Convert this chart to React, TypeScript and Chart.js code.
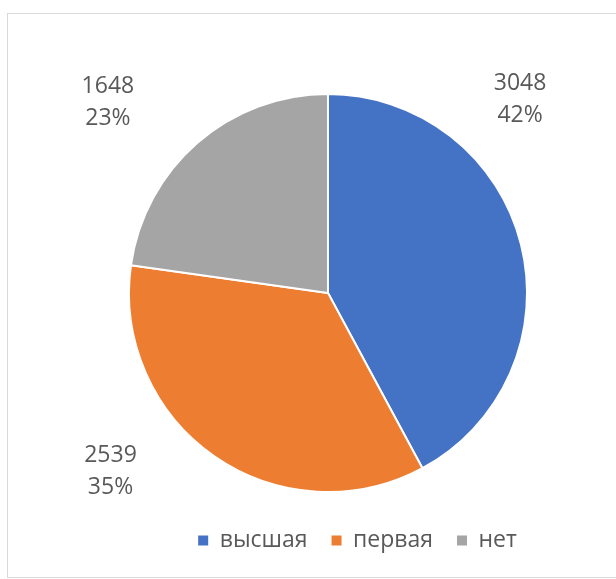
import React, { useEffect, useRef } from "react";
import { Chart, registerables } from "chart.js";

Chart.register(...registerables);

const categories = ["высшая", "первая", "нет"];
const values = [3048, 2539, 1648];
const colors = ["#4472C4", "#ED7D31", "#A5A5A5"];

// label anchor offsets relative to pie centre, in units of the pie radius
const labelOffsets = [
  [0.965, -0.975],
  [-1.093, 0.899],
  [-1.106, -0.96],
];

const TEXT = "#595959";
const FONT = "'Open Sans', 'Noto Sans', sans-serif";
const FONT_SIZE = 23;

export default function App() {
  const ref = useRef<HTMLCanvasElement>(null);

  useEffect(() => {
    if (!ref.current) return;
    const total = values.reduce((a, b) => a + b, 0);

    const frame = {
      id: "frame",
      beforeDraw(chart: any) {
        const ctx = chart.ctx;
        ctx.save();
        ctx.fillStyle = "#ffffff";
        ctx.fillRect(0, 0, chart.width, chart.height);
        ctx.strokeStyle = "#d9d9d9";
        ctx.lineWidth = 1;
        ctx.strokeRect(7.5, 13.5, 700, 564);
        ctx.restore();
      },
    };

    const dataLabels = {
      id: "dataLabels",
      afterDatasetsDraw(chart: any) {
        const meta = chart.getDatasetMeta(0);
        const ctx = chart.ctx;
        ctx.save();
        ctx.font = `${FONT_SIZE}px ${FONT}`;
        ctx.fillStyle = TEXT;
        ctx.textAlign = "center";
        ctx.textBaseline = "middle";
        meta.data.forEach((arc: any, i: number) => {
          const { x, y, outerRadius } = arc.getProps(["x", "y", "outerRadius"], true);
          const cx = x + labelOffsets[i][0] * outerRadius;
          const cy = y + labelOffsets[i][1] * outerRadius;
          ctx.fillText(String(values[i]), cx, cy - 16);
          ctx.fillText(Math.round((values[i] / total) * 100) + "%", cx, cy + 16);
        });
        ctx.restore();
      },
    };

    const chart = new Chart(ref.current, {
      type: "pie",
      data: {
        labels: categories,
        datasets: [
          {
            data: values,
            backgroundColor: colors,
            borderColor: "#ffffff",
            borderWidth: 2,
            hoverBorderWidth: 2,
          },
        ],
      },
      options: {
        responsive: false,
        animation: false,
        devicePixelRatio: 1,
        layout: { padding: { left: 128, right: 29, top: 81, bottom: 17 } },
        plugins: {
          tooltip: { enabled: false },
          title: {
            display: true,
            position: "right",
            fullSize: false,
            text: " ",
            font: { size: 1, lineHeight: 1 },
            padding: { top: 29, bottom: 29 },
          },
          legend: {
            position: "bottom",
            labels: {
              boxWidth: 10,
              boxHeight: 10,
              padding: 24,
              color: TEXT,
              font: { family: FONT, size: FONT_SIZE },
              generateLabels: () =>
                categories.map((t, i) => ({
                  text: t,
                  fillStyle: colors[i],
                  strokeStyle: colors[i],
                  lineWidth: 0,
                  hidden: false,
                  index: i,
                  fontColor: TEXT,
                })),
            },
          },
        },
      },
      plugins: [frame, dataLabels],
    });

    return () => chart.destroy();
  }, []);

  return (
    <div style={{ position: "absolute", left: 0, top: 0, width: 616, height: 579 }}>
      <canvas ref={ref} width={616} height={579} style={{ display: "block" }} />
    </div>
  );
}
